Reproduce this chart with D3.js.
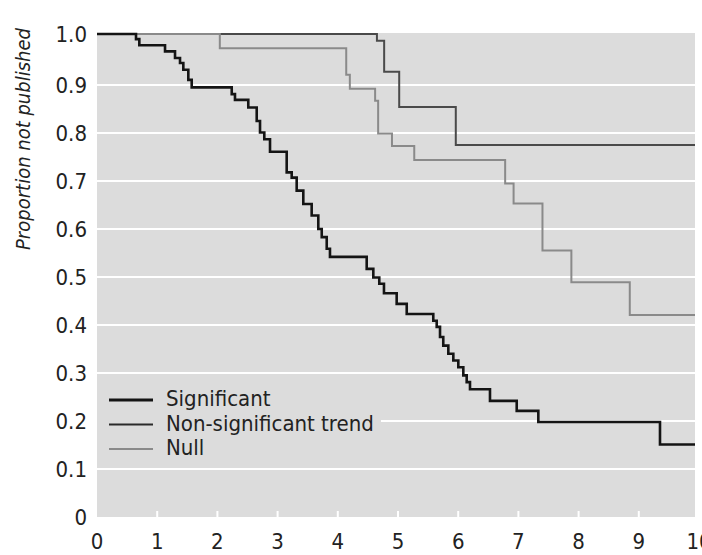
<!DOCTYPE html>
<html>
<head>
<meta charset="utf-8">
<script src="https://cdn.jsdelivr.net/npm/d3@7"></script>
<style>
  html, body { margin: 0; padding: 0; background: #fff; }
  svg { display: block; }
  text { font-family: "DejaVu Sans Condensed", "DejaVu Sans", sans-serif; font-stretch: condensed; fill: #222; }
</style>
</head>
<body>
<svg id="chart" width="702" height="555"></svg>
<script>
// ---- data (time in years, proportion not published after each drop) ----
const sigTimes = [0.648, 0.703, 1.130, 1.296, 1.379, 1.434, 1.517, 1.573, 2.238, 2.292, 2.513, 2.653, 2.708, 2.779, 2.874, 3.151, 3.234, 3.317, 3.427, 3.566, 3.676, 3.733, 3.816, 3.870, 4.480, 4.590, 4.689, 4.767, 4.978, 5.145, 5.586, 5.643, 5.698, 5.752, 5.836, 5.919, 6.002, 6.085, 6.141, 6.196, 6.528, 6.972, 7.331, 9.352];
const sigValues = [0.990, 0.978, 0.966, 0.953, 0.943, 0.930, 0.910, 0.895, 0.881, 0.869, 0.853, 0.825, 0.801, 0.787, 0.761, 0.718, 0.707, 0.680, 0.652, 0.628, 0.600, 0.583, 0.559, 0.542, 0.517, 0.499, 0.486, 0.466, 0.444, 0.423, 0.409, 0.396, 0.375, 0.357, 0.340, 0.326, 0.312, 0.295, 0.281, 0.266, 0.242, 0.221, 0.198, 0.151];

const trendTimes = [4.65, 4.77, 5.02, 5.96];
const trendValues = [0.987, 0.926, 0.854, 0.775];

const nullTimes = [2.04, 4.14, 4.20, 4.62, 4.67, 4.90, 5.27, 6.78, 6.92, 7.40, 7.88, 8.85];
const nullValues = [0.972, 0.920, 0.892, 0.867, 0.799, 0.773, 0.744, 0.695, 0.653, 0.555, 0.489, 0.421];

const seriesNames = ["Significant", "Non-significant trend", "Null"];
const xTicks = [0, 1, 2, 3, 4, 5, 6, 7, 8, 9, 10];
const yTicks = [0, 0.1, 0.2, 0.3, 0.4, 0.5, 0.6, 0.7, 0.8, 0.9, 1.0];
const yTitle = "Proportion not published";

// ---- layout ----
const svg = d3.select("#chart");
const plotLeft = 97, plotRight = 695, plotTop = 33, plotBottom = 517;

const x = d3.scaleLinear().domain([0, 10]).range([97, 699]);
const y = d3.scaleLinear().domain([0, 0.9, 1.0]).range([517, 85, 34]);

function steps(times, values) {
  const pts = [[0, 1]];
  times.forEach((t, i) => pts.push([t, values[i]]));
  pts.push([10, values[values.length - 1]]);
  return pts;
}

svg.append("defs").append("clipPath").attr("id", "clip")
  .append("rect").attr("x", plotLeft).attr("y", plotTop - 3)
  .attr("width", plotRight - plotLeft).attr("height", plotBottom - plotTop + 3);

// background
svg.append("rect")
  .attr("x", plotLeft).attr("y", plotTop)
  .attr("width", plotRight - plotLeft).attr("height", plotBottom - plotTop)
  .attr("fill", "#dcdcdc");

// grid lines
svg.append("g").selectAll("line")
  .data(yTicks.filter(d => d > 0 && d < 1))
  .join("line")
  .attr("x1", plotLeft).attr("x2", plotRight)
  .attr("y1", d => y(d)).attr("y2", d => y(d))
  .attr("stroke", "#ffffff").attr("stroke-width", 2);

// bottom ticks (white, pointing up into the plot)
svg.append("g").selectAll("line")
  .data(xTicks.filter(d => d > 0 && d < 10))
  .join("line")
  .attr("x1", d => x(d)).attr("x2", d => x(d))
  .attr("y1", plotBottom - 6).attr("y2", plotBottom)
  .attr("stroke", "#ffffff").attr("stroke-width", 2);

// legend background (hides grid line behind legend)
svg.append("rect")
  .attr("x", plotLeft).attr("y", 385)
  .attr("width", 284).attr("height", 78)
  .attr("fill", "#dcdcdc");

// y tick labels
svg.append("g").selectAll("text")
  .data(yTicks)
  .join("text")
  .attr("x", 87).attr("y", d => y(d))
  .attr("dy", "0.36em")
  .attr("text-anchor", "end")
  .attr("font-size", 22)
  .text(d => d === 0 ? "0" : d.toFixed(1));

// x tick labels
svg.append("g").selectAll("text")
  .data(xTicks)
  .join("text")
  .attr("x", d => x(d)).attr("y", 549)
  .attr("text-anchor", "middle")
  .attr("font-size", 22)
  .text(d => String(d));

// y title
svg.append("text")
  .attr("transform", "translate(30,139) rotate(-90)")
  .attr("text-anchor", "middle")
  .attr("font-size", 20)
  .attr("font-style", "italic")
  .text(yTitle);

// curves
const line = d3.line().x(d => x(d[0])).y(d => y(d[1])).curve(d3.curveStepAfter);
const curves = svg.append("g").attr("clip-path", "url(#clip)");
curves.append("path").datum(steps(trendTimes, trendValues))
  .attr("d", line).attr("fill", "none").attr("stroke", "#4a4a4a").attr("stroke-width", 2);
curves.append("path").datum(steps(nullTimes, nullValues))
  .attr("d", line).attr("fill", "none").attr("stroke", "#8a8a8a").attr("stroke-width", 2);
curves.append("path").datum(steps(sigTimes, sigValues))
  .attr("d", line).attr("fill", "none").attr("stroke", "#141414").attr("stroke-width", 2.6);

// legend
const legendStyles = [
  { stroke: "#141414", width: 3 },
  { stroke: "#2a2a2a", width: 2 },
  { stroke: "#8a8a8a", width: 2 }
];
const lg = svg.append("g");
seriesNames.forEach((name, i) => {
  const cy = 400 + i * 24.5;
  lg.append("line")
    .attr("x1", 109).attr("x2", 153)
    .attr("y1", cy).attr("y2", cy)
    .attr("stroke", legendStyles[i].stroke)
    .attr("stroke-width", legendStyles[i].width);
  lg.append("text")
    .attr("x", 166).attr("y", cy + 6)
    .attr("font-size", 22)
    .text(name);
});
</script>
</body>
</html>
